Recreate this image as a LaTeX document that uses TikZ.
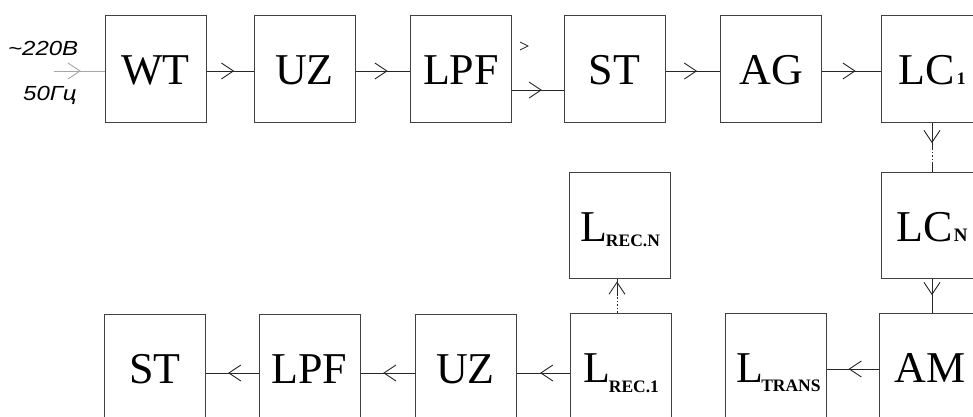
\documentclass[tikz,border=0pt]{standalone}
\usepackage{fontspec}
\setmainfont{Liberation Serif}
\setsansfont{Liberation Sans}
\usetikzlibrary{arrows.meta,decorations.markings}
\newcommand{\biglbl}[1]{{\fontsize{44}{44}\selectfont #1}}
\newcommand{\subb}[1]{{\fontsize{17.5}{18}\selectfont\bfseries #1}}
\newcommand{\inlbl}[1]{\scalebox{1}[0.85]{\fontsize{24}{24}\selectfont\sffamily\itshape #1}}
\begin{document}
\begin{tikzpicture}[x=1pt,y=-1pt,
  blk/.style={draw=black!75, line width=1pt, minimum width=101pt, minimum height=107pt,
    inner sep=0pt, text height=32pt, text depth=0pt},
  tipat/.style={postaction={decorate,decoration={markings,
    mark=at position #1 with {\arrow{Straight Barb[length=12pt,width=16pt]}}}}},
  conn/.style={draw=black!85, line width=0.9pt, tipat=#1},
  conn/.default=0.59,
  dots/.style={draw=black!85, line width=0.9pt, dash pattern=on 1.5pt off 2pt},
  inlabel/.style={inner sep=0pt, anchor=base west}]
\useasboundingbox (0,0) rectangle (973,416);

% rows of connectors
\coordinate (r1) at (0,71);
\coordinate (r1b) at (0,90);
\coordinate (r3) at (0,373);
\coordinate (r3b) at (0,369);
\coordinate (in) at (54,71);

% top row
\node[blk] (WT)  at (155.5,68.5) {\biglbl{WT}};
\node[blk] (UZ1) at (304.5,68.5) {\biglbl{UZ}};
\node[blk] (LPF1) at (461,68.5) {\biglbl{LPF}};
\node[blk] (ST1) at (614.5,68.5) {\biglbl{ST}};
\node[blk] (AG)  at (771,68.5) {\biglbl{AG}};
\node[blk] (LC1) at (932,68.5) {\biglbl{LC}\kern2pt\subb{1}\hspace{6pt}};

% middle row
\node[blk, minimum height=106pt] (LRN) at (620,225) {\biglbl{L}\kern-1pt\raisebox{-5pt}{\subb{REC.N}}};
\node[blk, minimum height=106pt] (LCN) at (932,225) {\biglbl{LC}\kern1pt\subb{\fontsize{19}{19}\selectfont N}\hspace{4pt}};

% bottom row
\node[blk] (ST2)  at (155,367.5) {\biglbl{ST}};
\node[blk] (LPF2) at (309.5,367.5) {\biglbl{LPF}};
\node[blk] (UZ2)  at (465.5,367.5) {\biglbl{UZ}};
\node[blk] (LR1)  at (621,366.5) {\biglbl{L}\kern-1pt\raisebox{-10pt}{\subb{REC.1}}};
\node[blk] (LT)   at (775.5,366.5) {\hspace{6pt}\biglbl{L}\kern-2pt\raisebox{-9pt}{\subb{TRANS}}};
\node[blk] (AM)   at (930,366.5) {\biglbl{AM}};

% input
\node[inlabel] (v220) at (8,55) {\inlbl{\textasciitilde220В}};
\node[inlabel] (f50) at (23,100) {\inlbl{50Гц}};
\draw[draw=black!35, line width=0.9pt, tipat=0.53] (in) -- (WT.west |- in);

% top connectors
\draw[conn] (WT.east |- r1) -- (UZ1.west |- r1);
\draw[conn] (UZ1.east |- r1) -- (LPF1.west |- r1);
\draw[conn=0.58] (LPF1.east |- r1b) -- (ST1.west |- r1b);
\draw[conn=0.58] (ST1.east |- r1) -- (AG.west |- r1);
\draw[conn=0.57] (AG.east |- r1) -- (LC1.west |- r1);
\draw[draw=black!85, line width=0.8pt] (520,42) -- (528,46) -- (520,50);

% LC1 -> LCN
\coordinate (v1a) at (932,148);
\coordinate (v1b) at (932,162);
\draw[conn=0.81] (LC1.south -| v1a) -- (v1a);
\draw[dots] (v1a) -- (v1b);
\draw[draw=black!85, line width=0.9pt] (v1b) -- (LCN.north -| v1b);

% LCN -> AM
\coordinate (v2) at (932,0);
\draw[conn=0.49] (LCN.south -| v2) -- (AM.north -| v2);

% LR1 -> LRN
\coordinate (v3a) at (617,296);
\draw[dots] (LR1.north -| v3a) -- (v3a);
\draw[conn=0.83] (v3a) -- (LRN.south -| v3a);

% bottom connectors
\draw[conn=0.58] (AM.west |- r3b) -- (LT.east |- r3b);
\draw[conn=0.56] (LR1.west |- r3) -- (UZ2.east |- r3);
\draw[conn=0.58] (UZ2.west |- r3) -- (LPF2.east |- r3);
\draw[conn=0.58] (LPF2.west |- r3) -- (ST2.east |- r3);
\end{tikzpicture}
\end{document}
